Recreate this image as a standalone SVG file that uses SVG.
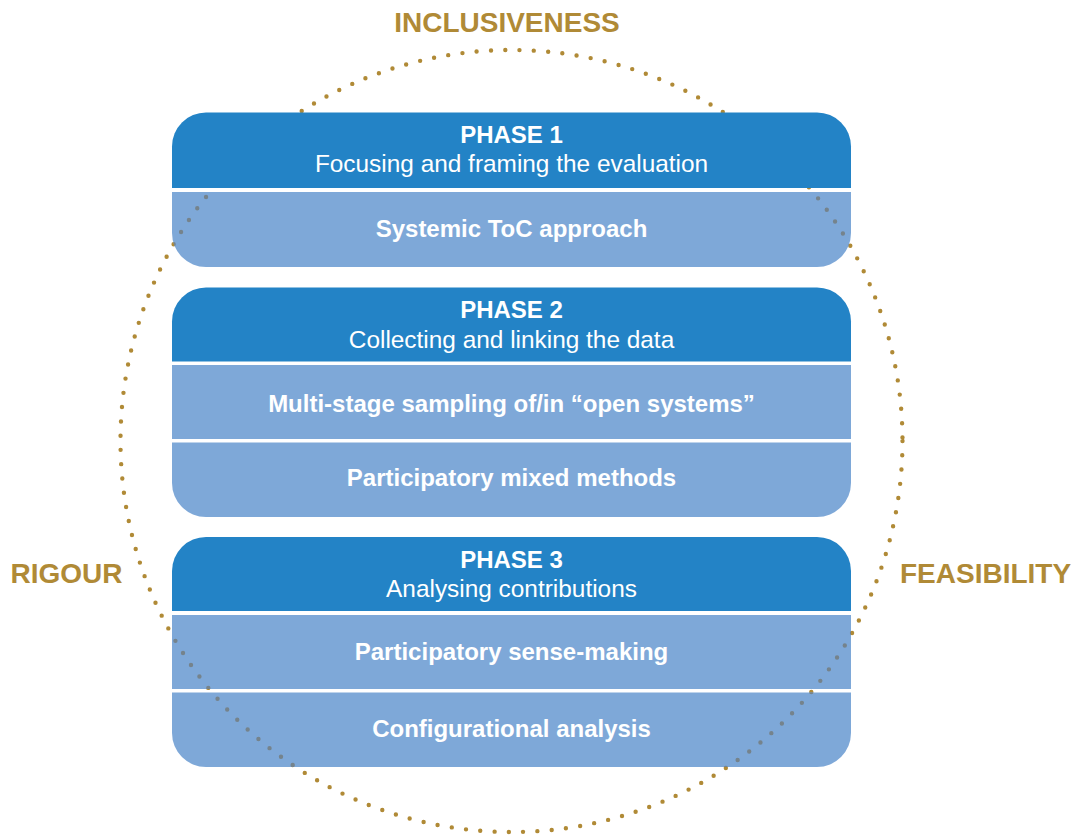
<svg xmlns="http://www.w3.org/2000/svg" xmlns:xlink="http://www.w3.org/1999/xlink" width="1075" height="837" viewBox="0 0 1075 837">
<style>
  .ring { fill: none; stroke: #b08a36; stroke-width: 4.4; stroke-linecap: round; stroke-dasharray: 0 14.34; }
  .ring-over { fill: none; stroke: #75838c; stroke-width: 4.4; stroke-linecap: round; stroke-dasharray: 0 14.34; }
  .head { fill: #2383c6; }
  .band { fill: #7ea8d8; }
  .t { font-family: "Liberation Sans", Arial, Helvetica, sans-serif; font-size: 24px; fill: #ffffff; text-anchor: middle; }
  .s { font-size: 24.4px; }
  .b { font-weight: bold; }
  .lbl { font-family: "Liberation Sans", Arial, Helvetica, sans-serif; font-size: 28px; font-weight: bold; fill: #b08a36; }
</style>
<defs>
  <path id="b1" d="M172,192 H851 V233 A34,34 0 0 1 817,267 H206 A34,34 0 0 1 172,233 Z"/>
  <path id="b2a" d="M172,365 H851 V439 H172 Z"/>
  <path id="b2b" d="M172,442.5 H851 V483 A34,34 0 0 1 817,517 H206 A34,34 0 0 1 172,483 Z"/>
  <path id="b3a" d="M172,615 H851 V689 H172 Z"/>
  <path id="b3b" d="M172,692.5 H851 V733 A34,34 0 0 1 817,767 H206 A34,34 0 0 1 172,733 Z"/>
  <clipPath id="bandclip">
    <use xlink:href="#b1"/>
    <use xlink:href="#b2a"/>
    <use xlink:href="#b2b"/>
    <use xlink:href="#b3a"/>
    <use xlink:href="#b3b"/>
  </clipPath>
</defs>
<rect width="1075" height="837" fill="#ffffff"/>

<g id="ring">
  <circle class="ring" cx="511.5" cy="441" r="391"/>
</g>

<g id="labels">
  <text class="lbl" x="507" y="32" text-anchor="middle">INCLUSIVENESS</text>
  <text class="lbl" x="10.5" y="583">RIGOUR</text>
  <text class="lbl" x="900" y="583">FEASIBILITY</text>
</g>

<g id="phase1">
  <path class="head" d="M172,188 V146.5 A34,34 0 0 1 206,112.5 H817 A34,34 0 0 1 851,146.5 V188 Z"/>
  <text class="t b" x="511.5" y="143.3">PHASE 1</text>
  <text class="t s" x="511.5" y="172.3">Focusing and framing the evaluation</text>
</g>
<g id="systemic-toc">
  <use class="band" xlink:href="#b1"/>
  <text class="t b" x="511.5" y="236.7">Systemic ToC approach</text>
</g>

<g id="phase2">
  <path class="head" d="M172,361.5 V321.5 A34,34 0 0 1 206,287.5 H817 A34,34 0 0 1 851,321.5 V361.5 Z"/>
  <text class="t b" x="511.5" y="318.3">PHASE 2</text>
  <text class="t s" x="511.5" y="347.7">Collecting and linking the data</text>
</g>
<g id="multi-stage-sampling">
  <use class="band" xlink:href="#b2a"/>
  <text class="t b" x="511.5" y="411.7">Multi-stage sampling of/in “open systems”</text>
</g>
<g id="participatory-mixed-methods">
  <use class="band" xlink:href="#b2b"/>
  <text class="t b" x="511.5" y="486">Participatory mixed methods</text>
</g>

<g id="phase3">
  <path class="head" d="M172,611 V571 A34,34 0 0 1 206,537 H817 A34,34 0 0 1 851,571 V611 Z"/>
  <text class="t b" x="511.5" y="568.3">PHASE 3</text>
  <text class="t s" x="511.5" y="597.3">Analysing contributions</text>
</g>
<g id="participatory-sense-making">
  <use class="band" xlink:href="#b3a"/>
  <text class="t b" x="511.5" y="660">Participatory sense-making</text>
</g>
<g id="configurational-analysis">
  <use class="band" xlink:href="#b3b"/>
  <text class="t b" x="511.5" y="736.7">Configurational analysis</text>
</g>

<g id="ring-over-bands" clip-path="url(#bandclip)">
  <circle class="ring-over" cx="511.5" cy="441" r="391"/>
</g>
</svg>
